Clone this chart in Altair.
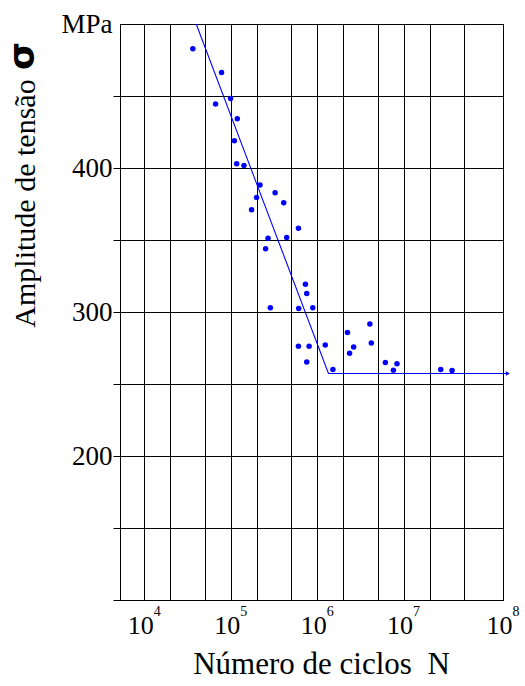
import altair as alt
import pandas as pd

# Fatigue test results: number of cycles to failure and stress amplitude (MPa)
cycles = [36400, 78200, 66700, 99500, 119000, 110000, 117000, 142000, 218000,
          326000, 199000, 410000, 174000, 607000, 270000, 444000, 253000,
          731000, 757000, 287000, 611000, 889000, 607000, 807000, 1240000,
          757000, 1520000, 2240000, 4070000, 2640000, 2370000, 4230000,
          6150000, 8380000, 7620000, 26900000, 36400000]
stress = [482.8, 466.3, 444.4, 448.2, 434.2, 418.9, 402.9, 401.7, 388.2,
          382.8, 379.6, 375.9, 371.0, 358.1, 351.3, 351.7, 344.0,
          319.2, 312.9, 302.9, 302.4, 302.9, 276.2, 276.2, 277.1,
          265.2, 260.1, 285.7, 291.7, 275.7, 271.3, 278.5,
          265.0, 264.1, 259.6, 260.1, 259.4]

# S-N curve: sloped branch, then the fatigue limit
fit_cycles = [39800, 1350000, 107000000]
fit_stress = [500.0, 257.3, 257.3]
arrow_cycles = [109000000]
arrow_stress = [257.3]

decades = [1e4, 1e5, 1e6, 1e7, 1e8]
exponents = ["4", "5", "6", "7", "8"]
x_grid = [1e4, 2e4, 5e4, 1e5, 2e5, 5e5, 1e6, 2e6, 5e6, 1e7, 2e7, 5e7, 1e8]
y_grid = [100, 150, 200, 250, 300, 350, 400, 450, 500]

points = pd.DataFrame({"N": cycles, "S": stress})
fit = pd.DataFrame({"N": fit_cycles, "S": fit_stress})
arrow = pd.DataFrame({"N": arrow_cycles, "S": arrow_stress})
expo = pd.DataFrame({"N": decades, "e": exponents})
sigma = pd.DataFrame({"t": ["σ"]})

SERIF = "Liberation Serif"
BLUE = "#0000ff"

xscale = alt.Scale(type="log", domain=[5224, 5e7, 1e8], range=[0, 344, 383],
                   nice=False)
yscale = alt.Scale(domain=[100, 500], zero=False, nice=False)

x_axis = alt.Axis(
    values=x_grid,
    labelExpr="indexof([10000,100000,1000000,10000000,100000000], datum.value) >= 0 ? '10' : ''",
    ticks=False, labelPadding=12, labelOffset=-4, labelFontSize=26,
    labelFont=SERIF, labelColor="black", labelFlush=False, labelOverlap=False,
    title="Número de ciclos\u00a0\u00a0N", titleFont=SERIF, titleFontSize=31,
    titleFontWeight="normal", titleColor="black", titleX=201,
    titleY=73, titleBaseline="alphabetic", titleAlign="center",
    grid=True, gridColor="black", gridOpacity=1, gridWidth=1,
    domainColor="black",
)
y_axis = alt.Axis(
    values=y_grid,
    labelExpr="datum.value == 500 ? 'MPa' : ((datum.value == 200 || datum.value == 300 || datum.value == 400) ? datum.label : '')",
    tickSize=7, tickColor="black",
    tickOpacity={"condition": {"test": "datum.value == 500", "value": 0}, "value": 1},
    labelPadding=1, labelFontSize=27, labelFont=SERIF, labelColor="black",
    labelFlush=False, labelOverlap=False,
    title="Amplitude de tensão", titleFont=SERIF, titleFontSize=30,
    titleFontWeight="normal", titleColor="black", titleAngle=270,
    titleX=-86, titleY=179, titleBaseline="alphabetic", titleAlign="center",
    grid=True, gridColor="black", gridOpacity=1, gridWidth=1,
    domainColor="black",
)

x_enc = alt.X("N:Q", scale=xscale, axis=x_axis)
y_enc = alt.Y("S:Q", scale=yscale, axis=y_axis)

dots = alt.Chart(points).mark_circle(size=30, color=BLUE, opacity=1).encode(
    x=x_enc, y=y_enc)

curve = alt.Chart(fit).mark_line(color=BLUE, strokeWidth=1.1, clip=False).encode(
    x=x_enc, y=y_enc)

tip = alt.Chart(arrow).mark_point(shape="triangle-right", size=22, filled=True,
                                  color=BLUE, opacity=1, clip=False).encode(
    x=x_enc, y=y_enc)

exp_text = alt.Chart(expo).mark_text(font=SERIF, fontSize=14, color="black",
                                     dx=13, baseline="middle",
                                     align="center").encode(
    x=x_enc, y=alt.value(588), text="e:N")

sigma_text = alt.Chart(sigma).mark_text(font="DejaVu Sans", fontSize=36,
                                        fontWeight="bold", color="black",
                                        angle=270, baseline="alphabetic",
                                        align="center").encode(
    x=alt.value(-86), y=alt.value(32), text="t:N")

chart = alt.layer(dots, curve, tip, exp_text, sigma_text).properties(
    width=383, height=576,
    autosize=alt.AutoSizeParams(type="none"),
    padding={"left": 120, "top": 24, "right": 22, "bottom": 86},
    background="white",
).configure_view(stroke="black", strokeWidth=1)

chart.save("out.html", embed_options={"renderer": "svg", "actions": False})
